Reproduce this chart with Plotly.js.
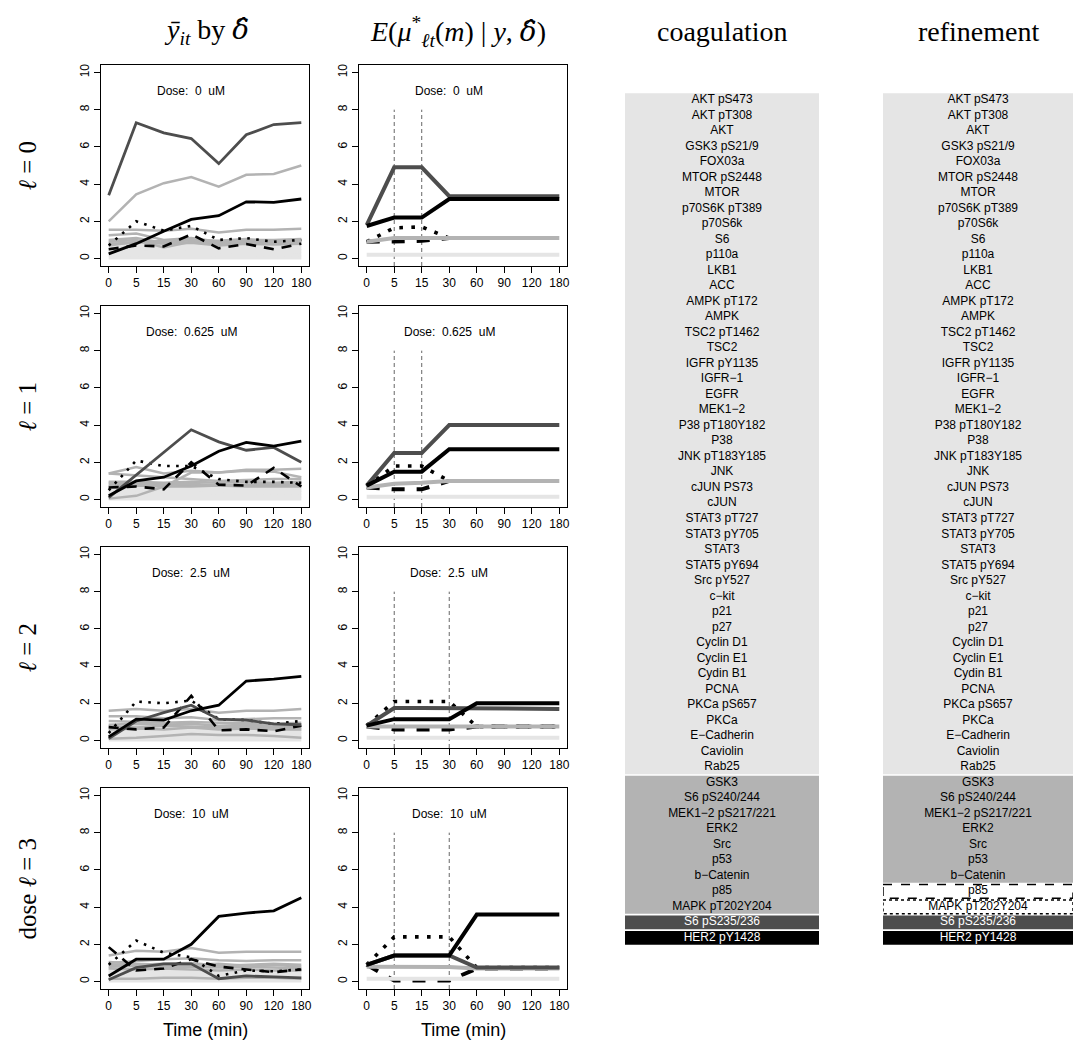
<!DOCTYPE html>
<html><head><meta charset="utf-8">
<script src="https://cdn.plot.ly/plotly-3.0.1.min.js"></script>
<style>html,body{margin:0;padding:0;background:#fff}</style>
</head><body><div id="chart" style="width:1073px;height:1045px"></div>
<script>
// ---------------- DATA ----------------
const timeLabels = ["0","5","15","30","60","90","120","180"];
const doses = ["0","0.625","2.5","10"];
const changePoints = [["5","15"],["5","15"],["5","30"],["5","30"]];
const rowLabels = ["<i>ℓ</i> = 0","<i>ℓ</i> = 1","<i>ℓ</i> = 2","dose <i>ℓ</i> = 3"];

// observed means (left column), one array per dose row
const obsHER2 = [
  [0.25,0.8,1.47,2.1,2.3,3.05,3.02,3.2],
  [0.2,1.0,1.2,1.8,2.6,3.07,2.87,3.14],
  [0.2,1.15,1.1,1.6,1.9,3.2,3.3,3.45],
  [0.3,1.2,1.2,2.0,3.5,3.68,3.8,4.5]];
const obsS6p235 = [
  [3.4,7.3,6.75,6.45,5.1,6.65,7.2,7.3],
  [0.1,1.3,2.5,3.75,3.1,2.65,2.8,2.0],
  [0.1,1.05,1.5,1.9,1.15,1.1,0.9,0.85],
  [0.1,0.75,0.95,0.95,0.15,0.3,0.25,0.2]];
const obsP85 = [
  [0.5,0.7,0.65,1.3,0.55,0.78,0.5,0.8],
  [0.65,0.7,0.55,2.0,0.8,0.75,1.7,0.7],
  [0.72,0.6,0.7,2.4,0.55,0.6,0.5,0.8],
  [1.85,0.6,0.7,1.2,0.8,0.65,0.5,0.65]];
const obsMAPK = [
  [0.7,2.0,1.5,1.75,1.0,1.1,0.9,1.0],
  [0.5,2.1,1.8,1.8,1.1,0.95,0.95,0.9],
  [0.4,2.1,2.0,2.15,1.15,1.1,0.9,1.05],
  [0.9,2.2,1.55,1.3,0.3,0.6,0.55,0.65]];
const obsMid = [
  [[2.0,3.45,4.05,4.38,3.86,4.5,4.54,5.0],
   [1.55,1.55,1.5,1.6,1.4,1.55,1.55,1.6],
   [1.25,1.35,1.0,1.1,0.9,1.0,1.0,1.05],
   [0.9,1.0,0.6,0.9,0.85,0.85,0.95,1.0],
   [0.8,0.85,0.95,1.0,0.75,0.9,0.85,0.9],
   [1.0,1.1,0.85,1.0,0.95,1.05,0.9,0.95],
   [0.7,0.9,0.8,0.85,0.7,0.8,0.75,0.8]],
  [[0.05,0.2,0.7,1.45,1.45,1.6,1.6,1.65],
   [1.4,1.75,1.4,1.55,1.45,1.55,1.5,1.2],
   [1.4,1.3,1.2,1.1,1.0,1.05,1.1,1.1],
   [0.95,0.95,0.9,0.95,0.9,0.95,0.9,0.95],
   [0.8,0.8,0.85,0.75,0.8,0.75,0.8,0.75],
   [0.9,0.85,0.8,0.85,0.75,0.8,0.85,0.8],
   [0.7,0.75,0.7,0.7,0.75,0.7,0.7,0.7]],
  [[1.6,1.7,1.6,1.7,1.5,1.6,1.6,1.7],
   [1.3,1.3,1.2,1.25,1.1,1.15,1.2,1.2],
   [1.05,1.0,0.95,1.0,0.95,0.95,0.9,0.95],
   [0.85,0.9,0.85,0.9,0.8,0.85,0.8,0.8],
   [0.75,0.7,0.8,0.75,0.7,0.75,0.7,0.7],
   [0.1,0.15,0.25,0.35,0.3,0.3,0.25,0.15],
   [0.6,0.65,0.6,0.7,0.6,0.65,0.6,0.6]],
  [[1.4,1.65,1.6,1.8,1.55,1.6,1.6,1.6],
   [1.0,1.1,1.2,1.25,1.15,1.1,1.15,1.15],
   [1.05,0.95,0.9,0.9,0.95,0.85,0.9,0.8],
   [0.8,0.85,0.8,0.8,0.75,0.8,0.75,0.7],
   [0.7,0.65,0.7,0.65,0.6,0.65,0.6,0.6],
   [0.15,0.15,0.2,0.2,0.15,0.2,0.2,0.15],
   [0.9,0.9,0.95,1.0,0.85,0.9,0.95,0.9]]];
const obsLight = [
  [[0.05,0.06,0.05,0.07,0.05,0.06,0.05,0.06],
   [0.2,0.22,0.2,0.24,0.2,0.22,0.2,0.22],
   [0.35,0.4,0.38,0.42,0.36,0.4,0.38,0.4],
   [0.5,0.55,0.5,0.58,0.5,0.55,0.5,0.55],
   [0.65,0.7,0.66,0.72,0.62,0.7,0.66,0.7],
   [0.8,0.85,0.8,0.88,0.78,0.85,0.8,0.85]],
  [[0.05,0.05,0.06,0.05,0.05,0.06,0.05,0.05],
   [0.2,0.2,0.22,0.2,0.2,0.22,0.2,0.2],
   [0.35,0.38,0.36,0.4,0.36,0.38,0.36,0.38],
   [0.5,0.52,0.5,0.55,0.5,0.52,0.5,0.52],
   [0.65,0.66,0.65,0.7,0.65,0.66,0.65,0.66],
   [0.78,0.8,0.78,0.82,0.78,0.8,0.78,0.8]],
  [[0.05,0.06,0.05,0.06,0.05,0.06,0.05,0.05],
   [0.2,0.22,0.2,0.22,0.2,0.22,0.2,0.2],
   [0.35,0.38,0.36,0.4,0.36,0.38,0.36,0.36],
   [0.5,0.52,0.5,0.55,0.5,0.52,0.5,0.5],
   [0.62,0.65,0.64,0.68,0.62,0.65,0.62,0.62],
   [0.75,0.8,0.78,0.82,0.76,0.78,0.76,0.75]],
  [[0.05,0.05,0.06,0.05,0.05,0.05,0.05,0.05],
   [0.2,0.2,0.22,0.22,0.2,0.2,0.2,0.2],
   [0.35,0.36,0.38,0.38,0.34,0.35,0.34,0.34],
   [0.48,0.5,0.52,0.52,0.48,0.5,0.48,0.48],
   [0.6,0.62,0.64,0.65,0.6,0.62,0.6,0.6],
   [0.72,0.75,0.78,0.8,0.72,0.75,0.72,0.72]]];

// posterior cluster means (second column)
const estBlack = [
  [1.75,2.2,2.2,3.2,3.2,3.2,3.2,3.2],
  [0.75,1.5,1.5,2.7,2.7,2.7,2.7,2.7],
  [0.8,1.15,1.15,1.15,2.0,2.0,2.0,2.0],
  [0.9,1.4,1.4,1.4,3.6,3.6,3.6,3.6]];
const estDark = [
  [1.8,4.9,4.9,3.35,3.35,3.35,3.35,3.35],
  [0.75,2.5,2.5,4.0,4.0,4.0,4.0,4.0],
  [0.8,1.75,1.75,1.75,1.7,1.7,1.7,1.7],
  [0.9,1.4,1.4,1.4,0.75,0.75,0.75,0.75]];
const estMid = [
  [0.9,1.1,1.1,1.1,1.1,1.1,1.1,1.1],
  [0.65,0.85,0.9,1.0,1.0,1.0,1.0,1.0],
  [0.75,0.75,0.75,0.75,0.75,0.75,0.75,0.75],
  [0.8,0.8,0.8,0.78,0.7,0.7,0.7,0.7]];
const estLight = [
  [0.2,0.2,0.2,0.2,0.2,0.2,0.2,0.2],
  [0.15,0.15,0.15,0.15,0.15,0.15,0.15,0.15],
  [0.15,0.15,0.15,0.15,0.15,0.15,0.15,0.15],
  [0.15,0.15,0.15,0.15,0.15,0.15,0.15,0.15]];
const estDashed = [
  [0.9,0.93,0.95,1.1,1.1,1.1,1.1,1.1],
  [0.65,0.55,0.55,1.0,1.0,1.0,1.0,1.0],
  [0.75,0.6,0.6,0.6,0.75,0.75,0.75,0.75],
  [0.9,0.05,0.05,0.05,0.7,0.7,0.7,0.7]];
const estDotted = [
  [0.9,1.65,1.7,1.1,1.1,1.1,1.1,1.1],
  [0.7,1.8,1.8,1.0,1.0,1.0,1.0,1.0],
  [0.8,2.1,2.1,2.1,0.75,0.75,0.75,0.75],
  [0.9,2.4,2.4,2.4,0.75,0.75,0.75,0.75]];

// proteins and cluster membership
const proteins = ["AKT pS473","AKT pT308","AKT","GSK3 pS21/9","FOX03a","MTOR pS2448","MTOR",
  "p70S6K pT389","p70S6k","S6","p110a","LKB1","ACC","AMPK pT172","AMPK","TSC2 pT1462","TSC2",
  "IGFR pY1135","IGFR\u22121","EGFR","MEK1\u22122","P38 pT180Y182","P38","JNK pT183Y185","JNK",
  "cJUN PS73","cJUN","STAT3 pT727","STAT3 pY705","STAT3","STAT5 pY694","Src pY527","c\u2212kit",
  "p21","p27","Cyclin D1","Cyclin E1","Cydin B1","PCNA","PKCa pS657","PKCa","E\u2212Cadherin",
  "Caviolin","Rab25","GSK3","S6 pS240/244","MEK1\u22122 pS217/221","ERK2","Src","p53",
  "b\u2212Catenin","p85","MAPK pT202Y204","S6 pS235/236","HER2 pY1428"];
const coagGroups = ["light","mid","dark","black"];
const coagSizes = [44, 9, 1, 1];
const refineGroups = ["light","mid","dashed","dotted","dark","black"];
const refineSizes = [44, 7, 1, 1, 1, 1];

// ---------------- STYLE / LAYOUT ----------------
const W = 1073, H = 1045;
const FONT = "Liberation Sans, Arial, Helvetica, sans-serif";
const SERIF = "Liberation Serif, Times New Roman, serif";
const colPx = [[101,309],[359,567]];
const rowTopPx = [65,306,547,788], rowH = 201;
const textColPx = [[625,819],[883,1073]];
const textColY = [92.3, 945.7];
const fx = p => p / W, fy = p => 1 - p / H;

const groupFill = {light:"#e5e5e5", mid:"#b3b3b3", dark:"#4d4d4d", black:"#000000", dashed:"#ffffff", dotted:"#ffffff"};
const groupText = {light:"#000", mid:"#000", dark:"#fff", black:"#fff", dashed:"#000", dotted:"#000"};
const deltaHat = "<span style=\"font-family:'DejaVu Serif'\"><i>δ\u0302</i></span>";

const xIdx = timeLabels.map((_, i) => i + 1);
const traces = [];
const layout = {
  width: W, height: H, margin: {l:0,r:0,t:0,b:0},
  paper_bgcolor: "#fff", plot_bgcolor: "rgba(0,0,0,0)",
  showlegend: false, font: {family: FONT, size: 12, color: "#000"},
  shapes: [], annotations: []
};

function addLine(n, y, color, width, dash) {
  traces.push({type:"scatter", mode:"lines", x:xIdx, y:y,
    xaxis: n===1?"x":"x"+n, yaxis: n===1?"y":"y"+n, hoverinfo:"skip",
    line:{color:color, width:width, dash:dash||"solid"}});
}

for (let r = 0; r < 4; r++) {
  for (let c = 0; c < 2; c++) {
    const n = r*2 + c + 1;
    const xa = n===1 ? "xaxis" : "xaxis"+n;
    const ya = n===1 ? "yaxis" : "yaxis"+n;
    layout[xa] = {domain:[fx(colPx[c][0]), fx(colPx[c][1])], anchor: n===1?"y":"y"+n,
      range:[0.72, 8.28], tickvals:xIdx, ticktext:timeLabels, ticks:"outside", ticklen:6,
      tickwidth:1, tickcolor:"#000", showline:true, mirror:true, linecolor:"#000", linewidth:1,
      showgrid:false, zeroline:false, tickfont:{size:12, family:FONT}, fixedrange:true};
    layout[ya] = {domain:[fy(rowTopPx[r]+rowH), fy(rowTopPx[r])], anchor: n===1?"x":"x"+n,
      range:[-0.4, 10.4], tickvals:[0,2,4,6,8,10], tickangle:-90, ticks:"outside", ticklen:6,
      tickwidth:1, tickcolor:"#000", showline:true, mirror:true, linecolor:"#000", linewidth:1,
      showgrid:false, zeroline:false, tickfont:{size:12, family:FONT}, fixedrange:true};
    layout.annotations.push({xref:n===1?"x":"x"+n, yref:n===1?"y":"y"+n, x:4, y:9,
      text:"Dose:\u00a0 "+doses[r]+"\u00a0 uM", showarrow:false, font:{size:12, family:FONT},
      xanchor:"center", yanchor:"middle"});
    if (c === 0) {
      obsLight[r].forEach(s => addLine(n, s, "#e5e5e5", 4));
      obsMid[r].forEach(s => addLine(n, s, "#b3b3b3", 2.5));
      addLine(n, obsP85[r], "#000", 2.6, "10px,8px");
      addLine(n, obsMAPK[r], "#000", 2.6, "2.6px,6.4px");
      addLine(n, obsS6p235[r], "#4d4d4d", 2.8);
      addLine(n, obsHER2[r], "#000", 2.8);
    } else {
      changePoints[r].forEach(cp => {
        const xi = timeLabels.indexOf(cp) + 1;
        traces.push({type:"scatter", mode:"lines", x:[xi, xi], y:[-0.4, 8],
          xaxis:"x"+n, yaxis:"y"+n, hoverinfo:"skip",
          line:{color:"#666", width:1, dash:"4px,3px"}});
      });
      addLine(n, estDashed[r], "#000", 4, "13px,12px");
      addLine(n, estDotted[r], "#000", 3.6, "3.6px,8.4px");
      addLine(n, estLight[r], "#e5e5e5", 4);
      addLine(n, estMid[r], "#b3b3b3", 4);
      addLine(n, estDark[r], "#4d4d4d", 4);
      addLine(n, estBlack[r], "#000", 4);
    }
  }
  layout.annotations.push({xref:"paper", yref:"paper", x:fx(27), y:fy(rowTopPx[r]+rowH/2),
    text:rowLabels[r], textangle:-90, showarrow:false, font:{size:25, family:SERIF},
    xanchor:"center", yanchor:"middle"});
}

// protein cluster columns
const nProt = proteins.length;
[[coagGroups, coagSizes], [refineGroups, refineSizes]].forEach((g, k) => {
  const n = 9 + k;
  layout["xaxis"+n] = {domain:[fx(textColPx[k][0]), Math.min(1, fx(textColPx[k][1]))],
    anchor:"y"+n, range:[0,1], visible:false, fixedrange:true};
  layout["yaxis"+n] = {domain:[fy(textColY[1]), fy(textColY[0])], anchor:"x"+n,
    range:[nProt, 0], visible:false, fixedrange:true};
  const [groups, sizes] = g;
  const colors = [];
  let start = 0;
  groups.forEach((grp, gi) => {
    const sz = sizes[gi];
    const gap = 0.055;
    const shp = {type:"rect", xref:"x"+n, yref:"y"+n, x0:0, x1:1, y0:start+gap, y1:start+sz-gap,
      fillcolor:groupFill[grp], layer:"below", line:{width:0}};
    if (grp === "dashed") shp.line = {width:1.5, color:"#000", dash:"dash"};
    if (grp === "dotted") shp.line = {width:1.5, color:"#000", dash:"dot"};
    layout.shapes.push(shp);
    for (let i = 0; i < sz; i++) colors.push(groupText[grp]);
    start += sz;
  });
  traces.push({type:"scatter", mode:"text", x:proteins.map(() => 0.5),
    y:proteins.map((_, i) => i + 0.5), text:proteins, xaxis:"x"+n, yaxis:"y"+n,
    textposition:"middle center", cliponaxis:false, hoverinfo:"skip",
    textfont:{family:FONT, size:12, color:colors}});
});

// column headers and axis titles
const headers = [
  {x:206, text:"<i>ȳ</i><sub><i>it</i></sub> by " + deltaHat},
  {x:458, text:"<i>E</i>(<i>μ</i><sup>*</sup><sub><i>ℓt</i></sub>(<i>m</i>) | <i>y</i>, " + deltaHat + ")"},
  {x:722, text:"coagulation"},
  {x:978, text:"refinement"}];
headers.forEach(h => layout.annotations.push({xref:"paper", yref:"paper", x:fx(h.x), y:fy(31),
  text:h.text, showarrow:false, font:{size:28, family:SERIF}, xanchor:"center", yanchor:"middle"}));
[0,1].forEach(c => layout.annotations.push({xref:"paper", yref:"paper",
  x:fx((colPx[c][0]+colPx[c][1])/2), y:fy(1030), text:"Time (min)", showarrow:false,
  font:{size:18, family:FONT}, xanchor:"center", yanchor:"middle"}));

Plotly.newPlot("chart", traces, layout, {staticPlot:true, displayModeBar:false});
</script></body></html>
